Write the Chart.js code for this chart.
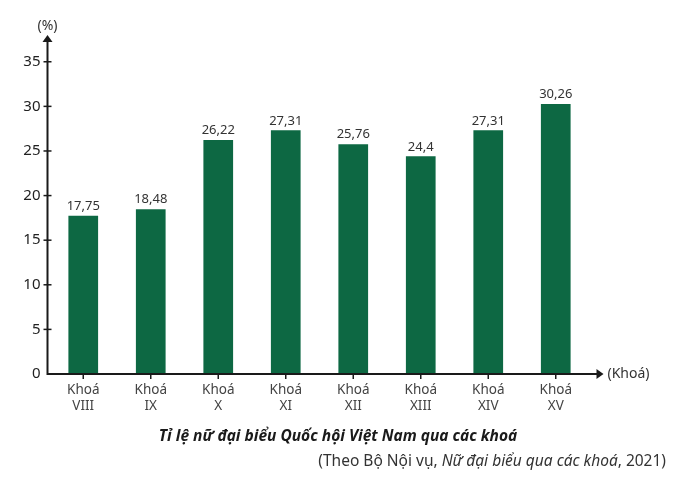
<!DOCTYPE html>
<html>
<head>
<meta charset="utf-8">
<script src="https://cdn.jsdelivr.net/npm/chart.js@4/dist/chart.umd.min.js"></script>
<style>
  html, body { margin: 0; padding: 0; background: #ffffff; }
  #wrap { width: 684px; height: 477px; position: relative; }
</style>
</head>
<body>
<div id="wrap"><canvas id="c"></canvas></div>
<script>
// ---- data ----
const categories = [['Khoá', 'VIII'], ['Khoá', 'IX'], ['Khoá', 'X'], ['Khoá', 'XI'], ['Khoá', 'XII'], ['Khoá', 'XIII'], ['Khoá', 'XIV'], ['Khoá', 'XV']];
const femaleShare = [17.75, 18.48, 26.22, 27.31, 25.76, 24.4, 27.31, 30.26];
const valueLabels = ['17,75', '18,48', '26,22', '27,31', '25,76', '24,4', '27,31', '30,26'];
const yTickValues = [0, 5, 10, 15, 20, 25, 30, 35];
const yUnit = '(%)';
const xUnit = '(Khoá)';
const titleText = 'Tỉ lệ nữ đại biểu Quốc hội Việt Nam qua các khoá';
const sourceParts = [
  { text: '(Theo Bộ Nội vụ, ', italic: false },
  { text: 'Nữ đại biểu qua các khoá', italic: true },
  { text: ', 2021)', italic: false }
];

const FONT = '"Noto Sans", "DejaVu Sans", sans-serif';
const AXIS = '#1a1a1a';

const decor = {
  id: 'decor',
  afterDatasetsDraw(chart) {
    const ctx = chart.ctx;
    const ca = chart.chartArea;
    const xs = chart.scales.x, ys = chart.scales.y;
    const x0 = ca.left - 2;
    const y0 = ys.getPixelForValue(0);
    const yTop = ca.top;
    const xEnd = ca.right + 14;
    ctx.save();
    // axes lines
    ctx.strokeStyle = AXIS; ctx.fillStyle = AXIS; ctx.lineWidth = 2;
    ctx.beginPath();
    ctx.moveTo(x0, y0); ctx.lineTo(x0, yTop + 6);
    ctx.moveTo(x0 - 1, y0); ctx.lineTo(xEnd - 6, y0);
    ctx.stroke();
    // arrow heads
    ctx.beginPath();
    ctx.moveTo(x0, yTop); ctx.lineTo(x0 - 5, yTop + 7); ctx.lineTo(x0 + 5, yTop + 7); ctx.closePath(); ctx.fill();
    ctx.beginPath();
    ctx.moveTo(xEnd, y0); ctx.lineTo(xEnd - 7, y0 - 5); ctx.lineTo(xEnd - 7, y0 + 5); ctx.closePath(); ctx.fill();
    // y tick marks
    ctx.lineWidth = 1.5;
    ys.ticks.forEach(t => {
      if (t.value === 0) return;
      const y = ys.getPixelForValue(t.value);
      ctx.beginPath(); ctx.moveTo(x0 - 4, y); ctx.lineTo(x0 + 4, y); ctx.stroke();
    });
    // x tick marks
    categories.forEach((c, i) => {
      const x = xs.getPixelForValue(i);
      ctx.beginPath(); ctx.moveTo(x, y0); ctx.lineTo(x, y0 + 5); ctx.stroke();
    });
    // unit labels
    ctx.fillStyle = '#333333';
    ctx.font = '14px ' + FONT;
    ctx.textAlign = 'center'; ctx.textBaseline = 'middle';
    ctx.fillText(yUnit, x0, yTop - 9);
    ctx.textAlign = 'left';
    ctx.fillText(xUnit, xEnd + 4, y0);
    // bar value labels
    const meta = chart.getDatasetMeta(0);
    ctx.fillStyle = '#333333';
    ctx.font = '13px ' + FONT;
    ctx.textAlign = 'center'; ctx.textBaseline = 'bottom';
    meta.data.forEach((bar, i) => {
      ctx.fillText(valueLabels[i], bar.x, bar.y - 3);
    });
    // title
    ctx.fillStyle = '#1a1a1a';
    ctx.font = 'italic bold 15.5px ' + FONT;
    ctx.textAlign = 'center'; ctx.textBaseline = 'middle';
    ctx.fillText(titleText, 338, 437);
    // source (mixed styles), right aligned
    ctx.fillStyle = '#333333';
    let total = 0;
    const widths = sourceParts.map(p => {
      ctx.font = (p.italic ? 'italic ' : '') + '15.5px ' + FONT;
      const w = ctx.measureText(p.text).width; total += w; return w;
    });
    let x = 666 - total;
    ctx.textAlign = 'left';
    sourceParts.forEach((p, i) => {
      ctx.font = (p.italic ? 'italic ' : '') + '15.5px ' + FONT;
      ctx.fillText(p.text, x, 462);
      x += widths[i];
    });
    ctx.restore();
  }
};

new Chart(document.getElementById('c'), {
  type: 'bar',
  data: {
    labels: categories,
    datasets: [{
      data: femaleShare,
      backgroundColor: '#0d6843',
      borderWidth: 0,
      barPercentage: 0.44,
      categoryPercentage: 1.0
    }]
  },
  options: {
    responsive: true,
    maintainAspectRatio: false,
    animation: false,
    devicePixelRatio: 1,
    layout: { padding: { top: 35, left: 0, right: 94.5, bottom: 53 } },
    plugins: { legend: { display: false }, tooltip: { enabled: false } },
    scales: {
      x: {
        grid: { display: false, drawTicks: false },
        border: { display: false },
        ticks: { color: '#444444', font: { family: FONT, size: 13.5, lineHeight: 1.2 }, padding: 8, maxRotation: 0, autoSkip: false },
        afterFit(scale) { scale.height = 50; }
      },
      y: {
        min: 0, max: 38,
        grid: { display: false, drawTicks: false },
        border: { display: false },
        ticks: { stepSize: 5, color: '#222222', font: { family: FONT, size: 15 }, padding: 9 },
        afterBuildTicks(scale) { scale.ticks = yTickValues.map(v => ({ value: v })); },
        afterFit(scale) { scale.width = 49.5; }
      }
    }
  },
  plugins: [decor]
});
</script>
</body>
</html>
